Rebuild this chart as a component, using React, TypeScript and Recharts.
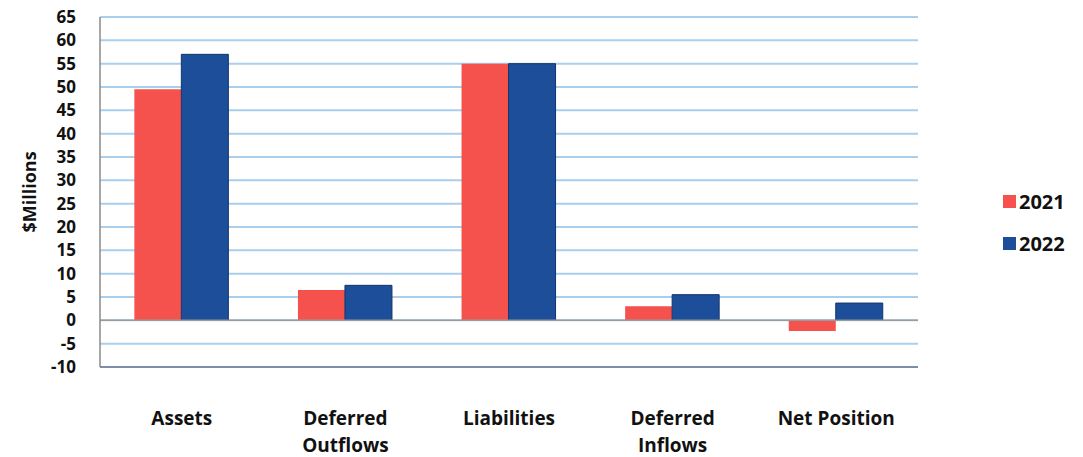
import React from "react";
import { BarChart, Bar, XAxis, YAxis, CartesianGrid, Legend, ReferenceLine } from "recharts";

const categories = ["Assets", "Deferred Outflows", "Liabilities", "Deferred Inflows", "Net Position"];
const tickLines: string[][] = [["Assets"], ["Deferred", "Outflows"], ["Liabilities"], ["Deferred", "Inflows"], ["Net Position"]];
const values2021 = [49.5, 6.5, 55, 3, -2.3];
const values2022 = [57, 7.5, 55, 5.5, 3.7];
const yTicks = [-10, -5, 0, 5, 10, 15, 20, 25, 30, 35, 40, 45, 50, 55, 60, 65];

const RED = "#f5524e";
const BLUE = "#1c4e9a";
const FONT = "'Open Sans', sans-serif";

const data = categories.map((c, i) => ({ name: c, y2021: values2021[i], y2022: values2022[i], idx: i }));

const XTick = (props: any) => {
  const { x, y, payload } = props;
  const lines = tickLines[payload.index] || [payload.value];
  return (
    <g>
      {lines.map((l, i) => (
        <text key={i} x={x} y={y + 50 + i * 27} textAnchor="middle" fontFamily={FONT} fontWeight={700} fontSize={19} fill="#111">
          {l}
        </text>
      ))}
    </g>
  );
};

const LegendContent = () => (
  <div style={{ fontFamily: FONT, fontWeight: 700, fontSize: 20, color: "#111" }}>
    {[["2021", RED], ["2022", BLUE]].map(([t, c], i) => (
      <div key={t} style={{ display: "flex", alignItems: "center", height: 26, marginBottom: i === 0 ? 16 : 0 }}>
        <span style={{ display: "inline-block", width: 13, height: 13, background: c, marginRight: 3 }} />
        <span>{t}</span>
      </div>
    ))}
  </div>
);

export default function App() {
  return (
    <div style={{ position: "absolute", left: 0, top: 0, width: 1083, height: 457, background: "#fff" }}>
      <BarChart
        width={1083}
        height={457}
        data={data}
        margin={{ top: 17, right: 85, left: 0, bottom: 0 }}
        barCategoryGap="21%"
        barGap={0}
      >
        <CartesianGrid vertical={false} stroke="#a9cfee" strokeWidth={2} />
        <ReferenceLine y={0} stroke="#9a9a9a" strokeWidth={1.5} />
        <XAxis
          dataKey="name"
          tick={<XTick />}
          tickLine={false}
          axisLine={{ stroke: "#7d8ea6", strokeWidth: 2 }}
          height={90}
          interval={0}
        />
        <XAxis xAxisId="top" orientation="top" dataKey="name" tick={false} tickLine={false} axisLine={{ stroke: "#7d8ea6", strokeWidth: 2 }} height={0} />
        <YAxis
          domain={[-10, 65]}
          ticks={yTicks}
          interval={0}
          width={100}
          tickLine={false}
          tickMargin={18}
          axisLine={{ stroke: "#8a8a8a", strokeWidth: 1.5 }}
          tick={{ fontFamily: FONT, fontWeight: 700, fontSize: 17, fill: "#111" }}
          label={{ value: "$Millions", angle: -90, position: "insideLeft", offset: 30, style: { fontFamily: FONT, fontWeight: 700, fontSize: 18, fill: "#111", textAnchor: "middle" } }}
        />
        <YAxis yAxisId="right" orientation="right" domain={[-10, 65]} tick={false} tickLine={false} width={0} axisLine={{ stroke: "#5a6a80", strokeWidth: 2 }} />
        <Legend
          layout="vertical"
          align="right"
          verticalAlign="top"
          content={<LegendContent />}
          wrapperStyle={{ left: 1003, top: 188, width: 80 }}
        />
        <Bar dataKey="y2021" name="2021" fill={RED} isAnimationActive={false} />
        <Bar dataKey="y2022" name="2022" fill={BLUE} stroke="#12346a" strokeWidth={1} isAnimationActive={false} />
      </BarChart>
    </div>
  );
}
